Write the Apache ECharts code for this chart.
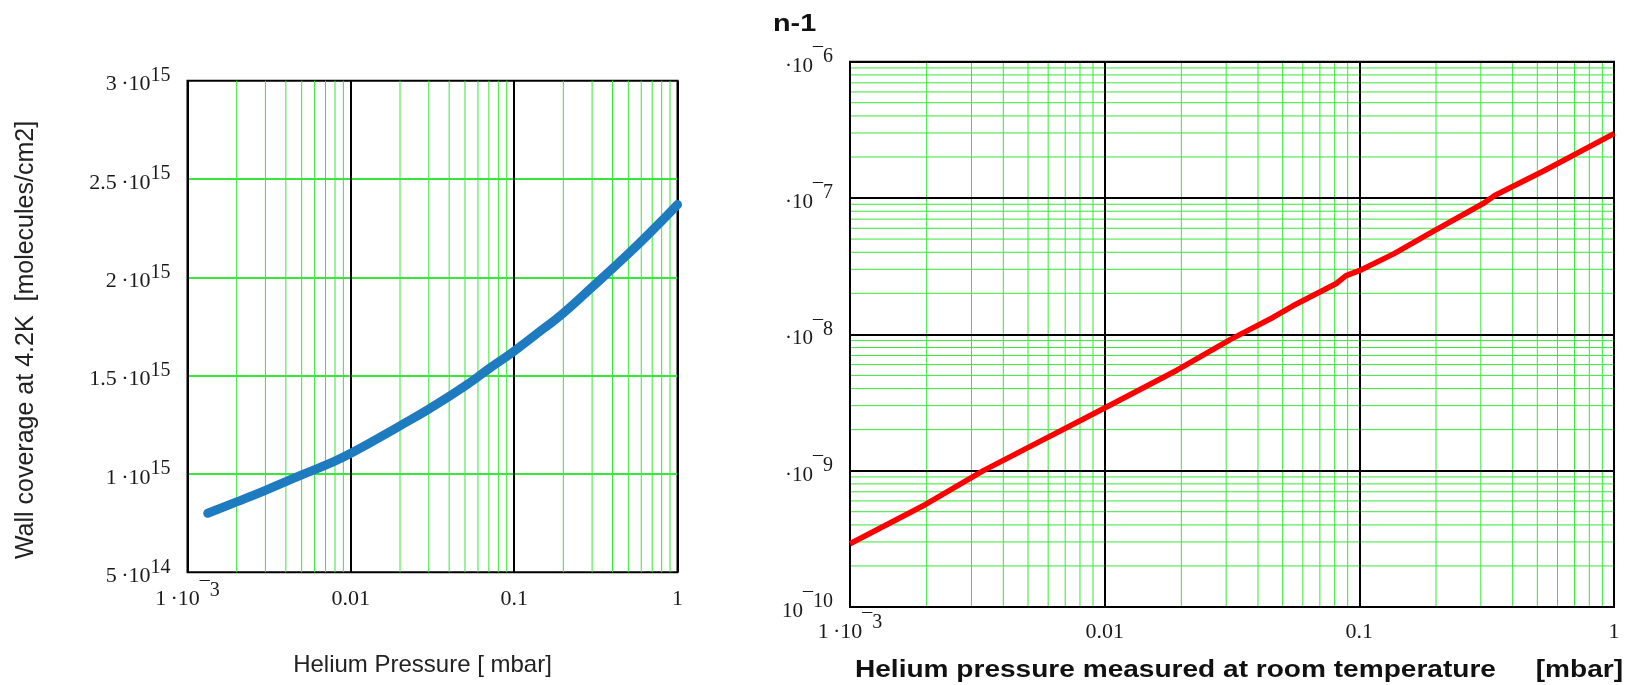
<!DOCTYPE html>
<html>
<head>
<meta charset="utf-8">
<script src="https://cdn.jsdelivr.net/npm/echarts@6/dist/echarts.min.js"></script>
<style>
html,body{margin:0;padding:0;background:#ffffff;}
#chart{width:1630px;height:685px;}
</style>
</head>
<body>
<div id="chart"></div>
<script>
// ---------- data ----------
// Left chart: wall coverage at 4.2 K vs helium pressure
const leftPressure = [0.00133, 0.002, 0.003, 0.005, 0.007, 0.01, 0.02, 0.03, 0.05, 0.07, 0.1, 0.15, 0.2, 0.3, 0.5, 0.7, 1.0];
const leftCoverage = [0.80, 0.858, 0.917, 0.995, 1.045, 1.105, 1.245, 1.33, 1.447, 1.535, 1.625, 1.737, 1.818, 1.95, 2.12, 2.238, 2.37]; // x 1e15 molecules/cm2
const coverageUnit = 1e15;

// Right chart: n-1 vs helium pressure measured at room temperature
const rightPressure = [0.001, 0.00198, 0.00334, 0.01, 0.0193, 0.0311, 0.0458, 0.0549, 0.0809, 0.0887, 0.1, 0.137, 0.188, 0.31, 0.34, 0.536, 1.0];
const rightIndex = [2.91e-10, 5.65e-10, 1.0e-9, 2.88e-9, 5.48e-9, 9.15e-9, 1.33e-8, 1.62e-8, 2.35e-8, 2.70e-8, 2.93e-8, 3.91e-8, 5.48e-8, 9.23e-8, 1.045e-7, 1.60e-7, 2.97e-7];

// Tick labels
const xTickBase = ['1\u2009·10', '0.01', '0.1', '1'];
const xTickSup = ['¯3', '', '', ''];
const leftYTickBase = ['5\u2009·10', '1\u2009·10', '1.5\u2009·10', '2\u2009·10', '2.5\u2009·10', '3\u2009·10'];
const leftYTickSup = ['14', '15', '15', '15', '15', '15'];
const rightYTickBase = ['10', '·10', '·10', '·10', '·10'];
const rightYTickSup = ['¯10', '¯9', '¯8', '¯7', '¯6'];
const minorMultipliers = [2, 3, 4, 5, 6, 7, 8, 9];

// ---------- styling ----------
const GREEN = '#36e836';
const SERIF = '"Liberation Serif", "Times New Roman", serif';
const SANS = '"Liberation Sans", Arial, sans-serif';
const TXT = '#1a1a1a';

function richSet(baseSize, supSize) {
  return {
    b: {fontFamily: SERIF, fontSize: baseSize, color: TXT, lineHeight: baseSize, padding: [30 - baseSize, 0, 0, 0]},
    s: {fontFamily: SERIF, fontSize: supSize, color: TXT, lineHeight: supSize, padding: [0, 0, 30 - supSize, 0]}
  };
}
function lbl(base, sup) {
  return sup ? '{b|' + base + '}{s|' + sup + '}' : '{b|' + base + '}';
}
function xFmt(v) {
  const i = Math.round(Math.log10(v)) + 3;
  return lbl(xTickBase[i] || '', xTickSup[i] || '');
}
function leftYFmt(v) {
  const i = Math.round((v - 5e14) / 5e14);
  return lbl(leftYTickBase[i] || '', leftYTickSup[i] || '');
}
function rightYFmt(v) {
  const i = Math.round(Math.log10(v)) + 10;
  return lbl(rightYTickBase[i] || '', rightYTickSup[i] || '');
}

function gridLine(xi, yi, p0, p1) {
  return {
    type: 'line', xAxisIndex: xi, yAxisIndex: yi,
    data: [p0, p1], symbol: 'none', silent: true, animation: false, z: 1,
    lineStyle: {color: GREEN, width: 1}
  };
}

const helperSeries = [];
// vertical minor lines (both charts) from 1e-3 to 1
[-3, -2, -1].forEach(function (d) {
  minorMultipliers.forEach(function (m) {
    const x = m * Math.pow(10, d);
    helperSeries.push(gridLine(0, 0, [x, 5e14], [x, 3e15]));
    helperSeries.push(gridLine(1, 1, [x, 1e-10], [x, 1e-6]));
  });
});
// horizontal minor lines (right chart)
[-10, -9, -8, -7].forEach(function (d) {
  minorMultipliers.forEach(function (m) {
    const y = m * Math.pow(10, d);
    helperSeries.push(gridLine(1, 1, [0.001, y], [1, y]));
  });
});

const chart = echarts.init(document.getElementById('chart'), null, {renderer: 'canvas'});

const option = {
  backgroundColor: '#ffffff',
  animation: false,
  grid: [
    {left: 187.5, right: 952.5, top: 80.7, bottom: 112.7, show: true, borderColor: '#000', borderWidth: 2, backgroundColor: 'transparent'},
    {left: 850, right: 16, top: 61.7, bottom: 78, show: true, borderColor: '#000', borderWidth: 2, backgroundColor: 'transparent'}
  ],
  xAxis: [
    {
      gridIndex: 0, type: 'log', logBase: 10, min: 0.001, max: 1, z: 2,
      axisLine: {show: false}, axisTick: {show: false},
      splitLine: {show: true, lineStyle: {color: '#000', width: 2}},
      axisLabel: {margin: 12, formatter: xFmt, rich: richSet(22, 20)}
    },
    {
      gridIndex: 1, type: 'log', logBase: 10, min: 0.001, max: 1, z: 2,
      axisLine: {show: false}, axisTick: {show: false},
      splitLine: {show: true, lineStyle: {color: '#000', width: 2}},
      axisLabel: {margin: 10, formatter: xFmt, rich: richSet(22, 20)}
    }
  ],
  yAxis: [
    {
      gridIndex: 0, type: 'value', min: 5e14, max: 3e15, interval: 5e14, z: 2,
      axisLine: {show: false}, axisTick: {show: false},
      splitLine: {show: true, showMinLine: false, showMaxLine: false, lineStyle: {color: GREEN, width: 2}},
      axisLabel: {margin: 17, formatter: leftYFmt, rich: richSet(22, 20)}
    },
    {
      gridIndex: 1, type: 'log', logBase: 10, min: 1e-10, max: 1e-6, z: 2,
      axisLine: {show: false}, axisTick: {show: false},
      splitLine: {show: true, lineStyle: {color: '#000', width: 2}},
      axisLabel: {margin: 17, formatter: rightYFmt, rich: richSet(21, 20)}
    }
  ],
  series: helperSeries.concat([
    {
      name: 'Wall coverage', type: 'line', xAxisIndex: 0, yAxisIndex: 0, z: 3,
      data: leftPressure.map(function (p, i) { return [p, leftCoverage[i] * coverageUnit]; }),
      smooth: true, symbol: 'none',
      lineStyle: {color: '#1e7bbf', width: 9, cap: 'round', join: 'round'}
    },
    {
      name: 'n-1', type: 'line', xAxisIndex: 1, yAxisIndex: 1, z: 3,
      data: rightPressure.map(function (p, i) { return [p, rightIndex[i]]; }),
      smooth: false, symbol: 'none',
      lineStyle: {color: '#ff0000', width: 5.5, cap: 'butt', join: 'round'}
    }
  ]),
  graphic: [
    {type: 'text', x: 26, y: 340, rotation: Math.PI / 2,
      style: {text: 'Wall coverage at 4.2K  [molecules/cm2]', font: '25px ' + SANS, fill: '#222', align: 'center', verticalAlign: 'middle', textAlign: 'center', textVerticalAlign: 'middle'}},
    {type: 'text', x: 422.5, y: 665,
      style: {text: 'Helium Pressure [ mbar]', font: '24px ' + SANS, fill: '#222', align: 'center', verticalAlign: 'middle', textAlign: 'center', textVerticalAlign: 'middle'}},
    {type: 'text', x: 773, y: 24, scaleX: 1.2,
      style: {text: 'n-1', font: 'bold 24px ' + SANS, fill: '#111', align: 'left', verticalAlign: 'middle', textAlign: 'left', textVerticalAlign: 'middle'}},
    {type: 'text', x: 855, y: 671, scaleX: 1.22,
      style: {text: 'Helium pressure measured at room temperature', font: 'bold 23px ' + SANS, fill: '#111', align: 'left', verticalAlign: 'middle', textAlign: 'left', textVerticalAlign: 'middle'}},
    {type: 'text', x: 1623, y: 671, scaleX: 1.22,
      style: {text: '[mbar]', font: 'bold 23px ' + SANS, fill: '#111', align: 'right', verticalAlign: 'middle', textAlign: 'right', textVerticalAlign: 'middle'}}
  ]
};
chart.setOption(option);
</script>
</body>
</html>
